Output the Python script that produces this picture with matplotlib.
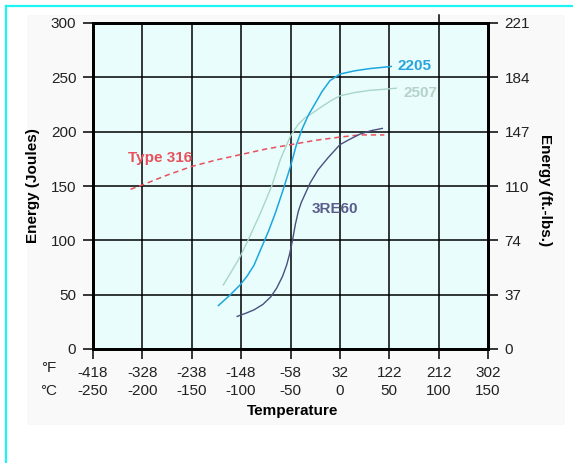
import matplotlib
matplotlib.use("Agg")
import matplotlib.pyplot as plt
from matplotlib.lines import Line2D
from matplotlib.patches import Rectangle

# ---- data (Celsius, Joules) ----
t316_c = [-212, -200, -175, -150, -125, -100, -75, -50, -25, 0, 20, 45]
t316_j = [147, 151, 160, 168, 174, 179, 184, 188, 192, 195, 197, 197]

d2205_c = [-123, -112, -101, -94, -87, -80, -72, -65, -58, -50, -44, -38, -32, -25, -18, -10, 0, 15, 30, 52]
d2205_j = [40, 49, 59, 67, 77, 92, 109, 126, 145, 168, 188, 203, 215, 226, 237, 247, 253, 256, 258, 260]

d2507_c = [-118, -110, -101, -91, -80, -69, -60, -50, -42, -35, -28, -20, -10, 0, 15, 30, 45, 57]
d2507_j = [59, 71, 85, 104, 126, 150, 175, 196, 207, 213, 217, 222, 228, 233, 236, 238, 239, 240]

r3re60_c = [-104, -95, -87, -78, -70, -64, -58, -54, -51, -48, -45, -42, -39, -35, -30, -22, -12, 0, 10, 21, 32, 43]
r3re60_j = [30, 33, 36, 41, 48, 56, 67, 77, 87, 100, 115, 127, 135, 143, 153, 165, 176, 188, 193, 198, 201, 203]

celsius_ticks = [-250, -200, -150, -100, -50, 0, 50, 100, 150]
fahrenheit_labels = ["-418", "-328", "-238", "-148", "-58", "32", "122", "212", "302"]
joule_ticks = [0, 50, 100, 150, 200, 250, 300]
ftlb_labels = ["0", "37", "74", "110", "147", "184", "221"]

SANS = ["Liberation Sans", "DejaVu Sans"]
TICK_FS = 11

W, H = 573, 463
fig = plt.figure(figsize=(W / 100, H / 100), dpi=100)
fig.patch.set_facecolor("white")

# faint grey panel
fig.patches.append(Rectangle((27 / W, 1 - 425 / H), (565 - 27) / W, (425 - 15) / H,
                             transform=fig.transFigure, facecolor="#f9f9f9",
                             edgecolor="none", zorder=-10))
# cyan border (top & left)
fig.lines.append(Line2D([6 / W, 1], [1 - 6 / H, 1 - 6 / H], transform=fig.transFigure,
                        color="#1ef4f4", lw=1.6))
fig.lines.append(Line2D([6 / W, 6 / W], [0, 1 - 6 / H], transform=fig.transFigure,
                        color="#1ef4f4", lw=1.6))

ax = fig.add_axes([93 / W, (H - 349) / H, 395 / W, 326 / H])
ax.set_facecolor("#e9fdfd")
ax.set_xlim(-250, 150)
ax.set_ylim(0, 300)

ax.set_xticks(celsius_ticks)
ax.set_yticks(joule_ticks)
ax.grid(True, color="black", lw=1.1)
ax.set_axisbelow(True)
for s in ax.spines.values():
    s.set_linewidth(2.0)
    s.set_color("black")

ax.tick_params(axis="both", direction="out", length=7, width=1.1, color="black",
               labelsize=TICK_FS)
ax.set_yticklabels([str(v) for v in joule_ticks], family=SANS, color="#222222")
ax.tick_params(axis="y", pad=5)
ax.set_xticklabels(fahrenheit_labels, family=SANS, color="#222222")
ax.tick_params(axis="x", pad=5)

# celsius row
xt = ax.get_xaxis_transform()
for c in celsius_ticks:
    ax.text(c, -0.128, str(c), transform=xt, ha="center", va="center",
            fontsize=TICK_FS, family=SANS, color="#222222", clip_on=False)
fig.text(49 / W, 1 - 368 / H, "°F", ha="center", va="center", fontsize=TICK_FS,
         family=SANS, color="#222222")
fig.text(49 / W, 1 - 391 / H, "°C", ha="center", va="center", fontsize=TICK_FS,
         family=SANS, color="#222222")

# small vertical mark above top at 100 C
ax.axvline(100, ymin=1.0, ymax=1.025, color="black", lw=1.1, clip_on=False)

# right axis
ax2 = ax.twinx()
ax2.set_ylim(0, 300)
ax2.set_yticks(joule_ticks)
ax2.set_yticklabels(ftlb_labels, family=SANS, color="#222222")
ax2.tick_params(axis="y", direction="out", length=7, width=1.1, labelsize=TICK_FS, pad=5)
for s in ax2.spines.values():
    s.set_linewidth(2.0)

# curves
ax.plot(t316_c, t316_j, color="#e8505c", lw=1.1, ls=(0, (3.5, 2.5)))
ax.plot(d2507_c, d2507_j, color="#a8d6c8", lw=1.0)
ax.plot(d2205_c, d2205_j, color="#1aa7df", lw=1.1)
ax.plot(r3re60_c, r3re60_j, color="#4b4f80", lw=1.0)

ax.text(-215, 176, "Type 316", color="#e8505c", fontsize=11, fontweight="bold",
        family=SANS, ha="left", va="center")
ax.text(58, 260, "2205", color="#2aa4dc", fontsize=11, fontweight="bold",
        family=SANS, ha="left", va="center", clip_on=False)
ax.text(64, 236, "2507", color="#b4d2c8", fontsize=11, fontweight="bold",
        family=SANS, ha="left", va="center", clip_on=False)
ax.text(-29, 129, "3RE60", color="#5a5c8c", fontsize=11, fontweight="bold",
        family=SANS, ha="left", va="center")

# axis labels
fig.text(293 / W, 1 - 411 / H, "Temperature", ha="center", va="center",
         fontsize=11, fontweight="bold", family=SANS)
fig.text(33 / W, 1 - 186 / H, "Energy (Joules)", ha="center", va="center",
         rotation=90, fontsize=11, fontweight="bold", family=SANS)
fig.text(545 / W, 1 - 190 / H, "Energy (ft.-lbs.)", ha="center", va="center",
         rotation=270, fontsize=11, fontweight="bold", family=SANS)

fig.savefig("out.png", dpi=100)
